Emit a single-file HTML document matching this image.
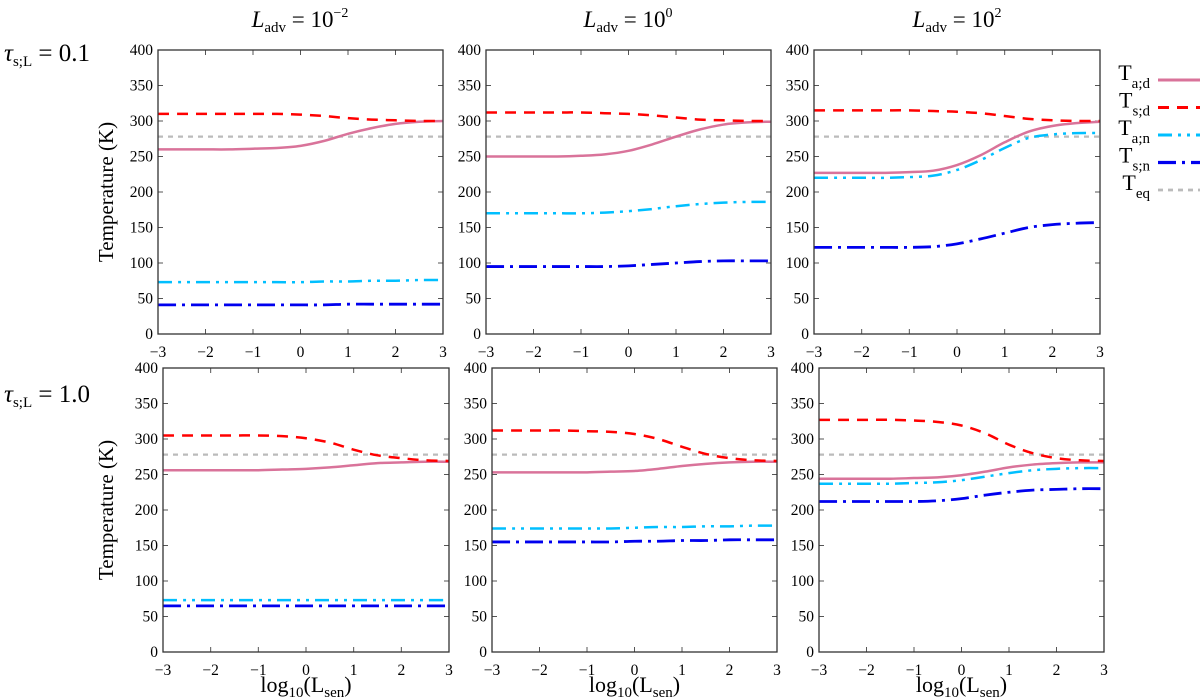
<!DOCTYPE html>
<html><head><meta charset="utf-8"><style>
body{margin:0;background:#fff;}
svg{display:block;font-family:"Liberation Serif",serif;}
</style></head><body>
<svg id="fig" width="1200" height="700" viewBox="0 0 1200 700" xmlns="http://www.w3.org/2000/svg">
<g font-size="23" text-anchor="middle">
<text x="300" y="27"><tspan font-style="italic">L</tspan><tspan font-size="15" dy="5">adv</tspan><tspan dy="-5"> = 10</tspan><tspan font-size="14" dy="-10">−2</tspan></text>
<text x="628" y="27"><tspan font-style="italic">L</tspan><tspan font-size="15" dy="5">adv</tspan><tspan dy="-5"> = 10</tspan><tspan font-size="14" dy="-10">0</tspan></text>
<text x="957" y="27"><tspan font-style="italic">L</tspan><tspan font-size="15" dy="5">adv</tspan><tspan dy="-5"> = 10</tspan><tspan font-size="14" dy="-10">2</tspan></text>
</g>
<text x="4" y="61" font-size="25"><tspan font-style="italic">τ</tspan><tspan font-size="15" dy="5">s;L</tspan><tspan dy="-5"> = 0.1</tspan></text>
<text x="4" y="402" font-size="25"><tspan font-style="italic">τ</tspan><tspan font-size="15" dy="5">s;L</tspan><tspan dy="-5"> = 1.0</tspan></text>
<g id="panels"></g>
<g id="legend"></g>
</svg>
<script>
const xs=[-3,-2.5,-2,-1.5,-1,-0.5,0,0.5,1,1.5,2,2.5,3];
const xTicks=[-3,-2,-1,0,1,2,3];
const yTicks=[0,50,100,150,200,250,300,350,400];
const teqValue=278;
const p1Tad=[260,260,260,260,261,262,265,272,282,290,296,299,300];
const p1Tsd=[310,310,310,310,310,310,309,307,304,302,301,300,300];
const p1Tan=[73,73,73,73,73,73,73,74,74,75,75,76,76];
const p1Tsn=[41,41,41,41,41,41,41,41,42,42,42,42,42];
const p2Tad=[250,250,250,250,251,253,258,267,278,288,295,298,299];
const p2Tsd=[312,312,312,312,312,311,310,308,305,302,301,300,300];
const p2Tan=[170,170,170,170,170,171,173,176,180,183,185,186,186];
const p2Tsn=[95,95,95,95,95,95,96,98,100,102,103,103,103];
const p3Tad=[227,227,227,227,228,230,238,252,270,285,293,297,299];
const p3Tsd=[315,315,315,315,315,314,313,311,307,303,301,300,300];
const p3Tan=[220,220,220,220,221,223,231,245,262,276,281,283,283];
const p3Tsn=[122,122,122,122,122,123,127,134,142,150,154,156,157];
const p4Tad=[256,256,256,256,256,257,258,260,263,266,267,268,268];
const p4Tsd=[305,305,305,305,305,304,301,295,285,277,273,270,269];
const p4Tan=[73,73,73,73,73,73,73,73,73,73,73,73,73];
const p4Tsn=[65,65,65,65,65,65,65,65,65,65,65,65,65];
const p5Tad=[253,253,253,253,253,254,255,258,262,265,267,268,268];
const p5Tsd=[312,312,312,312,311,310,307,300,289,279,273,270,269];
const p5Tan=[174,174,174,174,174,174,175,176,176,177,177,178,178];
const p5Tsn=[155,155,155,155,155,155,156,156,157,157,158,158,158];
const p6Tad=[244,244,244,244,245,246,249,254,260,264,266,267,267];
const p6Tsd=[327,327,327,327,326,324,319,308,292,280,273,270,269];
const p6Tan=[237,237,237,237,238,239,242,247,252,256,258,259,259];
const p6Tsn=[212,212,212,212,212,213,216,221,225,228,229,230,230];

const NS="http://www.w3.org/2000/svg";
function mk(tag,attrs,parent){const e=document.createElementNS(NS,tag);for(const k in attrs)e.setAttribute(k,attrs[k]);if(parent)parent.appendChild(e);return e;}
const styles={
 Tad:{stroke:"#d9739a",dash:"",w:2.5},
 Tsd:{stroke:"#ff0000",dash:"11 8",w:2.5},
 Tan:{stroke:"#00bfff",dash:"14 6 3 6 3 6",w:2.5},
 Tsn:{stroke:"#0000ee",dash:"18 6 3 6",w:2.8},
 Teq:{stroke:"#bbbbbb",dash:"5 5",w:2.2}
};
const panels=[
 {x0:158,x1:443,y0:50,y1:334,d:[p1Tad,p1Tsd,p1Tan,p1Tsn],yl:true,xl:false},
 {x0:486,x1:771,y0:50,y1:334,d:[p2Tad,p2Tsd,p2Tan,p2Tsn],yl:false,xl:false},
 {x0:814,x1:1100,y0:50,y1:334,d:[p3Tad,p3Tsd,p3Tan,p3Tsn],yl:false,xl:false},
 {x0:163,x1:449,y0:368,y1:652,d:[p4Tad,p4Tsd,p4Tan,p4Tsn],yl:true,xl:true},
 {x0:492,x1:777,y0:368,y1:652,d:[p5Tad,p5Tsd,p5Tan,p5Tsn],yl:false,xl:true},
 {x0:819,x1:1104,y0:368,y1:652,d:[p6Tad,p6Tsd,p6Tan,p6Tsn],yl:false,xl:true}
];
const names=["Tad","Tsd","Tan","Tsn"];
function pathFrom(pts){let d="M"+pts[0][0]+","+pts[0][1];
 for(let i=0;i<pts.length-1;i++){const p0=pts[Math.max(0,i-1)],p1=pts[i],p2=pts[i+1],p3=pts[Math.min(pts.length-1,i+2)];
  const c1=[p1[0]+(p2[0]-p0[0])/6,p1[1]+(p2[1]-p0[1])/6],c2=[p2[0]-(p3[0]-p1[0])/6,p2[1]-(p3[1]-p1[1])/6];
  d+=" C"+c1.join(",")+" "+c2.join(",")+" "+p2.join(",");}
 return d;}
const root=document.getElementById("panels");
panels.forEach((p,i)=>{
 const g=mk("g",{},root);
 
 
 const X=v=>p.x0+(v+3)/6*(p.x1-p.x0);
 const Y=v=>p.y1-v/400*(p.y1-p.y0);
 xTicks.forEach(t=>{
  mk("line",{x1:X(t),x2:X(t),y1:p.y1,y2:p.y1-5,stroke:"#555"},g);
  mk("line",{x1:X(t),x2:X(t),y1:p.y0,y2:p.y0+5,stroke:"#555"},g);
  const tx=mk("text",{x:X(t),y:p.y1+23,"font-size":15.5,"text-anchor":"middle"},g);
  tx.textContent=(t<0?"−":"")+Math.abs(t);
  
  
 });
 yTicks.forEach(t=>{
  mk("line",{x1:p.x0,x2:p.x0+5,y1:Y(t),y2:Y(t),stroke:"#555"},g);
  mk("line",{x1:p.x1,x2:p.x1-5,y1:Y(t),y2:Y(t),stroke:"#555"},g);
  const tx=mk("text",{x:p.x0-5,y:Y(t)+5,"font-size":15.5,"text-anchor":"end"},g);
  tx.textContent=t;
  
  
 });
 const cp="clip"+i;
 const c=mk("clipPath",{id:cp},g);mk("rect",{x:p.x0,y:p.y0,width:p.x1-p.x0,height:p.y1-p.y0},c);
 const teq=mk("line",{x1:p.x0,x2:p.x1,y1:Y(teqValue),y2:Y(teqValue),stroke:styles.Teq.stroke,"stroke-width":styles.Teq.w,"stroke-dasharray":styles.Teq.dash},g);
 
 
 p.d.forEach((arr,k)=>{
  const s=styles[names[k]];
  const pts=xs.map((x,j)=>[X(x),Y(arr[j])]);
  const path=mk("path",{d:pathFrom(pts),fill:"none",stroke:s.stroke,"stroke-width":s.w,"clip-path":"url(#"+cp+")"},g);
  if(s.dash)path.setAttribute("stroke-dasharray",s.dash);
  
  
 });
 mk("rect",{x:p.x0,y:p.y0,width:p.x1-p.x0,height:p.y1-p.y0,fill:"none",stroke:"#333","stroke-width":1.3},g);
 if(p.yl){const cy=(p.y0+p.y1)/2;const t=mk("text",{x:113,y:cy,"font-size":21,"text-anchor":"middle",transform:"rotate(-90 113 "+cy+")"},g);t.textContent="Temperature (K)";
  }
 if(p.xl){const cx=(p.x0+p.x1)/2;const t=mk("text",{x:cx,y:692,"font-size":22,"text-anchor":"middle"},g);
  t.innerHTML='log<tspan font-size="15" dy="5">10</tspan><tspan dy="-5">(L</tspan><tspan font-size="15" dy="5">sen</tspan><tspan dy="-5">)</tspan>';
  }
});
const leg=document.getElementById("legend");
const legNames=[["a;d","Tad"],["s;d","Tsd"],["a;n","Tan"],["s;n","Tsn"],["eq","Teq"]];
legNames.forEach((l,i)=>{
 const y=80+i*27.5;const s=styles[l[1]];
 const t=mk("text",{x:1150,y:y,"font-size":22,"text-anchor":"end"},leg);
 t.innerHTML='T<tspan font-size="15" dy="8">'+l[0]+'</tspan>';
 
 
 const ln=mk("line",{x1:1158,x2:1200,y1:y,y2:y,stroke:s.stroke,"stroke-width":s.w+0.5},leg);
 if(s.dash)ln.setAttribute("stroke-dasharray",s.dash);
 
 
});
</script>
</body></html>
